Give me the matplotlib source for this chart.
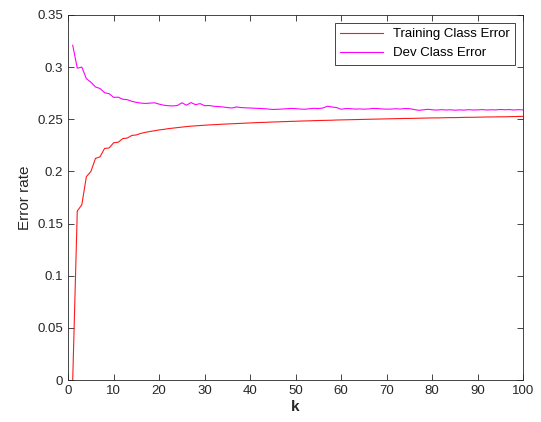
import matplotlib
matplotlib.use("Agg")
import matplotlib.pyplot as plt
import numpy as np

plt.rcParams['font.family'] = ['Liberation Sans', 'DejaVu Sans']

k = np.arange(1, 101)

train_err = [
    0.0, 0.162, 0.168, 0.195, 0.200, 0.2125, 0.214, 0.222, 0.2225, 0.2275,
    0.228, 0.2315, 0.232, 0.2345, 0.235, 0.2365, 0.2375, 0.2383, 0.239, 0.2398,
    0.2403, 0.241, 0.2415, 0.242, 0.2425, 0.243, 0.2434, 0.2437, 0.244, 0.2443,
    0.2446, 0.2448, 0.245, 0.2453, 0.2455, 0.2457, 0.2459, 0.2461, 0.2463, 0.2465,
    0.2467, 0.2469, 0.247, 0.2472, 0.2474, 0.2475, 0.2477, 0.2478, 0.248, 0.2481,
    0.2483, 0.2484, 0.2485, 0.2487, 0.2488, 0.2489, 0.249, 0.2491, 0.2493, 0.2494,
    0.2495, 0.2496, 0.2497, 0.2498, 0.2499, 0.25, 0.2501, 0.2502, 0.2503, 0.2504,
    0.2505, 0.2506, 0.2507, 0.2508, 0.2508, 0.2509, 0.251, 0.2511, 0.2512, 0.2513,
    0.2513, 0.2514, 0.2515, 0.2516, 0.2516, 0.2517, 0.2518, 0.2519, 0.2519, 0.252,
    0.2521, 0.2522, 0.2522, 0.2523, 0.2524, 0.2524, 0.2525, 0.2526, 0.2527, 0.2528,
]

dev_err = [
    0.321, 0.299, 0.300, 0.289, 0.2855, 0.281, 0.2795, 0.2755, 0.2745, 0.271,
    0.2712, 0.2692, 0.2688, 0.2672, 0.2662, 0.2655, 0.2652, 0.2655, 0.2658, 0.2645,
    0.2635, 0.263, 0.2628, 0.2632, 0.2658, 0.2635, 0.266, 0.264, 0.265, 0.263,
    0.2632, 0.2625, 0.2622, 0.2618, 0.2612, 0.2608, 0.2618, 0.2612, 0.261, 0.2608,
    0.2606, 0.2604, 0.2602, 0.2598, 0.2594, 0.2596, 0.2598, 0.2601, 0.2604, 0.2602,
    0.2598, 0.2596, 0.2601, 0.2605, 0.2603, 0.2608, 0.2625, 0.2618, 0.2612, 0.2596,
    0.2603, 0.2602, 0.2598, 0.2599, 0.2597, 0.2599, 0.2604, 0.2603, 0.2599, 0.2597,
    0.2598, 0.2601, 0.2598, 0.2603, 0.2602, 0.2594, 0.2586, 0.259, 0.2596, 0.2591,
    0.2588, 0.2592, 0.2589, 0.2591, 0.2587, 0.259, 0.2588, 0.2592, 0.2589, 0.259,
    0.2593, 0.2589, 0.2591, 0.259, 0.2594, 0.2591, 0.2593, 0.2589, 0.2592, 0.259,
]

fig = plt.figure(figsize=(5.41, 4.22), dpi=100)
ax = fig.add_axes([0.126, 0.0995, 0.841, 0.865])

ax.plot(k, train_err, color='#ff1a1a', linewidth=0.8, label='Training Class Error')
ax.plot(k, dev_err, color='#ff00ff', linewidth=0.8, label='Dev Class Error')

ax.set_xlim(0, 100)
ax.set_ylim(0, 0.35)
ax.set_xticks(np.arange(0, 101, 10))
ax.set_yticks(np.arange(0, 0.351, 0.05))
ax.set_yticklabels(['0', '0.05', '0.1', '0.15', '0.2', '0.25', '0.3', '0.35'])

ax.tick_params(direction='in', top=True, right=True, labelsize=9.5,
               length=4, width=0.6, colors='#262626')
for sp in ax.spines.values():
    sp.set_color('#262626')
    sp.set_linewidth(0.6)

ax.set_xlabel('k', fontsize=11, fontweight='bold', color='#262626', labelpad=2)
ax.set_ylabel('Error rate', fontsize=11, color='#262626')

leg = ax.legend(loc='upper right', fontsize=9.5, fancybox=False,
                edgecolor='#262626', framealpha=1, borderaxespad=0.6,
                handlelength=3.2)
leg.get_frame().set_linewidth(0.6)

fig.savefig('out.png', dpi=100)
